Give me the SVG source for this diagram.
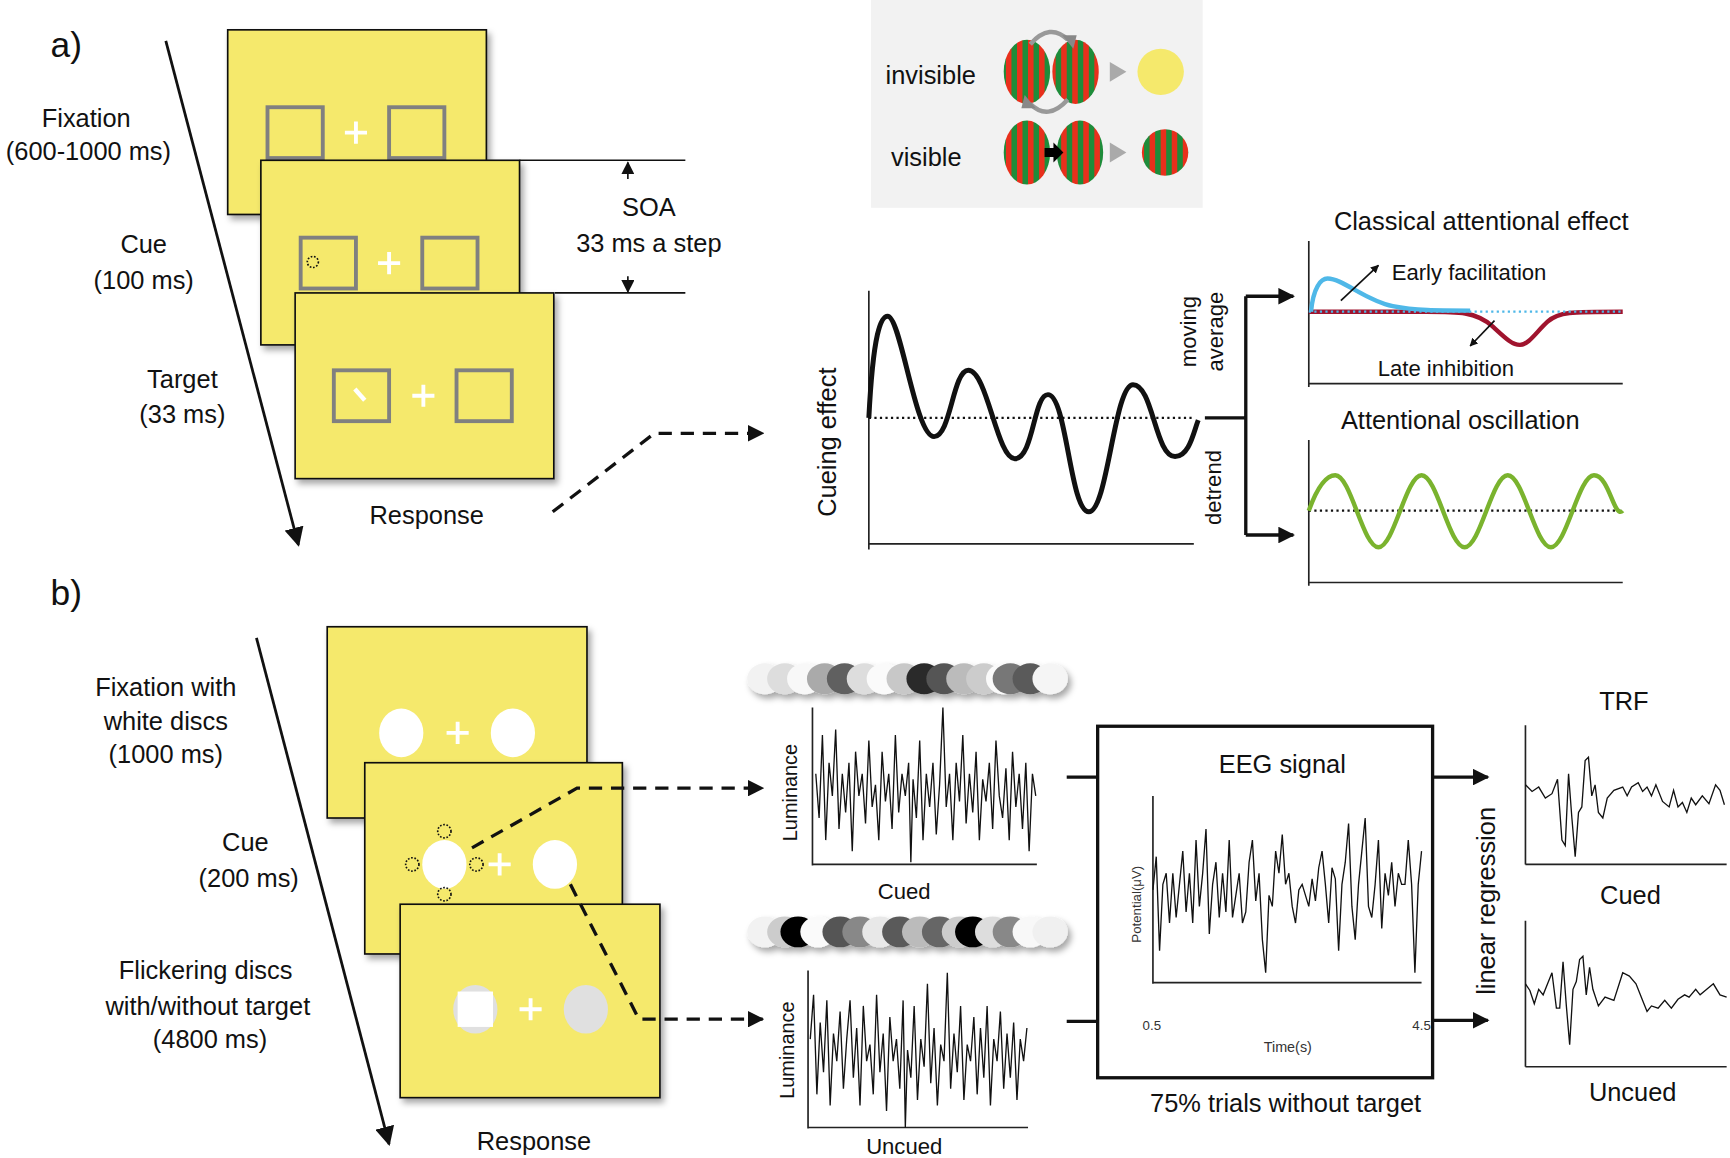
<svg xmlns="http://www.w3.org/2000/svg" width="1730" height="1158" viewBox="0 0 1730 1158">
<style>
text{font-family:"Liberation Sans",Arial,sans-serif;fill:#111}
.lab{font-size:23px;text-anchor:middle}
.scr{fill:#F5E96C;stroke:#111;stroke-width:1.5;filter:url(#sh)}
.gbox{fill:none;stroke:#808080;stroke-width:3.5}
.cross{stroke:#fff;stroke-width:3.5}
.ax{stroke:#222;stroke-width:1.5;fill:none}
.dot{stroke:#111;stroke-width:2;stroke-dasharray:2 3;fill:none}
.dash{stroke:#111;stroke-width:3;stroke-dasharray:12 8;fill:none}
.sig{fill:none;stroke:#111;stroke-width:1.2}
</style>
<defs>
<filter id="sh" x="-10%" y="-10%" width="130%" height="130%"><feDropShadow dx="3" dy="4" stdDeviation="3" flood-opacity="0.35"/></filter>
<marker id="ah" viewBox="0 0 10 10" refX="9" refY="5" markerWidth="5" markerHeight="5" orient="auto"><path d="M0,0L10,5L0,10z" fill="#111"/></marker>
<marker id="ahs" viewBox="0 0 10 10" refX="9" refY="5" markerWidth="7" markerHeight="7" orient="auto"><path d="M0,0L10,5L0,10z" fill="#111"/></marker>
<marker id="ahu" viewBox="0 0 10 10" refX="9" refY="5" markerWidth="12" markerHeight="12" markerUnits="userSpaceOnUse" orient="auto"><path d="M0,0L10,5L0,10z" fill="#111"/></marker>
<pattern id="stripe" width="10" height="10" patternUnits="userSpaceOnUse"><rect width="5" height="10" fill="#E8301C"/><rect x="5" width="5" height="10" fill="#1E8C3A"/></pattern>
</defs>
<g transform="scale(1.1054)">
<g id="panelA-labels">
<text x="60" y="52" style="font-size:32px" text-anchor="middle">a)</text>
<text class="lab" x="78" y="115">Fixation</text>
<text class="lab" x="80" y="145">(600-1000 ms)</text>
<text class="lab" x="130" y="229">Cue</text>
<text class="lab" x="130" y="261">(100 ms)</text>
<text class="lab" x="165" y="351">Target</text>
<text class="lab" x="165" y="383">(33 ms)</text>
<text class="lab" x="386" y="474">Response</text>
<text class="lab" x="587" y="195">SOA</text>
<text class="lab" x="587" y="228">33 ms a step</text>
</g>
<g id="screenA1"><rect class="scr" x="206" y="27" width="234" height="167"/><rect class="gbox" x="242" y="97" width="50" height="46"/><rect class="gbox" x="352" y="97" width="50" height="46"/><path class="cross" d="M312,120h20M322,110v20"/></g>
<g id="screenA2"><rect class="scr" x="236" y="145" width="234" height="167"/><rect class="gbox" x="272" y="215" width="50" height="46"/><rect class="gbox" x="382" y="215" width="50" height="46"/><path class="cross" d="M342,238h20M352,228v20"/><circle cx="283" cy="237" r="5" fill="none" stroke="#111" stroke-width="1.5" stroke-dasharray="1.5 1.5"/></g>
<g id="screenA3"><rect class="scr" x="267" y="265" width="234" height="168"/><rect class="gbox" x="302" y="335" width="50" height="46"/><rect class="gbox" x="413" y="335" width="50" height="46"/><path class="cross" d="M373,358h20M383,348v20"/><path d="M321,352l9,10" stroke="#fff" stroke-width="4"/></g>
<g id="inset">
<rect x="788" y="0" width="300" height="188" fill="#F2F2F2"/>
<text class="lab" x="842" y="76">invisible</text>
<text class="lab" x="838" y="150">visible</text>
<ellipse cx="929" cy="65" rx="21" ry="29" fill="url(#stripe)"/>
<ellipse cx="973" cy="65" rx="21" ry="29" fill="url(#stripe)"/>
<ellipse cx="1050" cy="65" rx="21" ry="21" fill="#F5E96C"/>
<ellipse cx="929" cy="138" rx="21" ry="29" fill="url(#stripe)"/>
<ellipse cx="977" cy="138" rx="21" ry="29" fill="url(#stripe)"/>
<ellipse cx="1054" cy="138" rx="21" ry="21" fill="url(#stripe)"/>
<path d="M1004,56l15,9l-15,9z" fill="#AAA"/><path d="M1004,129l15,9l-15,9z" fill="#AAA"/>
<path d="M945,134h8v-5l9,9l-9,9v-5h-8z" fill="#000"/>
<path d="M932,40q18,-20 34,-4" fill="none" stroke="#999" stroke-width="4"/><path d="M961,32l10,12l3,-12z" fill="#888"/>
<path d="M966,90q-18,20 -34,4" fill="none" stroke="#999" stroke-width="4"/><path d="M937,98l-10,-12l-3,12z" fill="#888"/>
</g>
<g id="cueing">
<path class="ax" d="M786,263V497M786,492H1080"/>
<path class="dot" d="M786,378H1080"/>
<text class="lab" transform="translate(756,400) rotate(-90)">Cueing effect</text>
<path d="M786,378C790,300 797,286 803,286C815,286 828,395 845,395C860,395 862,335 876,335C893,335 902,415 918,415C935,415 935,357 948,357C965,357 968,463 985,463C1002,463 1008,348 1025,348C1043,348 1045,413 1063,413C1076,413 1080,390 1084,380" fill="none" stroke="#111" stroke-width="4.5"/>
<text class="lab" transform="translate(1082,300) rotate(-90)" style="font-size:20px">moving</text>
<text class="lab" transform="translate(1106,300) rotate(-90)" style="font-size:20px">average</text>
<text class="lab" transform="translate(1105,441) rotate(-90)" style="font-size:20px">detrend</text>
</g>
<g id="classical">
<text class="lab" x="1340" y="208">Classical attentional effect</text>
<path class="ax" d="M1184,218V350M1184,347H1468"/>
<path d="M1184,282H1290C1320,282 1335,282 1350,295C1362,306 1368,312 1375,312C1383,312 1390,300 1400,291C1410,282 1420,282 1468,282" fill="none" stroke="#A0142E" stroke-width="4"/>
<path d="M1186,282C1188,260 1195,252 1201,252C1215,252 1235,272 1260,277C1280,281 1300,281 1330,281" fill="none" stroke="#4FB8E8" stroke-width="4"/>
<path d="M1184,282H1468" stroke="#4FB8E8" stroke-width="2" stroke-dasharray="2 3"/>
<path d="M1213,272L1247,240" stroke="#111" stroke-width="1.5" marker-end="url(#ah)"/>
<path d="M1352,290L1330,313" stroke="#111" stroke-width="1.5" marker-end="url(#ah)"/>
<text x="1259" y="253" style="font-size:20px">Early facilitation</text>
<text x="1308" y="340" style="font-size:20px" text-anchor="middle">Late inhibition</text>
</g>
<g id="oscillation">
<text class="lab" x="1321" y="388">Attentional oscillation</text>
<path class="ax" d="M1184,398V530M1184,527H1468"/>
<path class="dot" d="M1184,462H1468"/>
<path d="M1184,462C1192,440 1200,430 1208,430C1222,430 1233,495 1247,495C1261,495 1272,430 1286,430C1300,430 1311,495 1325,495C1339,495 1350,430 1364,430C1378,430 1389,495 1403,495C1417,495 1428,430 1442,430C1456,430 1460,470 1468,462" fill="none" stroke="#7AB32E" stroke-width="4"/>
</g>
<g id="panelB-labels">
<text x="60" y="547" style="font-size:32px" text-anchor="middle">b)</text>
<text class="lab" x="150" y="630">Fixation with</text>
<text class="lab" x="150" y="660">white discs</text>
<text class="lab" x="150" y="690">(1000 ms)</text>
<text class="lab" x="222" y="770">Cue</text>
<text class="lab" x="225" y="802">(200 ms)</text>
<text class="lab" x="186" y="886">Flickering discs</text>
<text class="lab" x="188" y="918">with/without target</text>
<text class="lab" x="190" y="948">(4800 ms)</text>
<text class="lab" x="483" y="1040">Response</text>
</g>
<g id="screenB1"><rect class="scr" x="296" y="567" width="235" height="173"/><ellipse cx="363" cy="663" rx="20" ry="22" fill="#fff"/><ellipse cx="464" cy="663" rx="20" ry="22" fill="#fff"/><path class="cross" d="M404,663h20M414,653v20"/></g>
<g id="screenB2"><rect class="scr" x="330" y="690" width="233" height="173"/><ellipse cx="402" cy="782" rx="20" ry="22" fill="#fff"/><ellipse cx="502" cy="782" rx="20" ry="22" fill="#fff"/><path class="cross" d="M442,782h20M452,772v20"/>
<g fill="none" stroke="#111" stroke-width="1.5" stroke-dasharray="1.5 1.5"><circle cx="402" cy="752" r="6"/><circle cx="373" cy="782" r="6"/><circle cx="431" cy="782" r="6"/><circle cx="402" cy="809" r="6"/></g></g>
<g id="screenB3"><rect class="scr" x="362" y="818" width="235" height="175"/><ellipse cx="430" cy="913" rx="20" ry="22" fill="#E0E0E0"/><rect x="414" y="897" width="32" height="32" fill="#fff"/><ellipse cx="530" cy="913" rx="20" ry="22" fill="#E0E0E0"/><path class="cross" d="M470,913h20M480,903v20"/></g>
<g id="discrows" filter="url(#sh)">
<ellipse cx="692" cy="614" rx="16" ry="14" fill="#F2F2F2"/><ellipse cx="710" cy="614" rx="16" ry="14" fill="#DDD"/><ellipse cx="728" cy="614" rx="16" ry="14" fill="#F8F8F8"/><ellipse cx="746" cy="614" rx="16" ry="14" fill="#AAA"/><ellipse cx="764" cy="614" rx="16" ry="14" fill="#606060"/><ellipse cx="782" cy="614" rx="16" ry="14" fill="#DDD"/><ellipse cx="800" cy="614" rx="16" ry="14" fill="#FAFAFA"/><ellipse cx="818" cy="614" rx="16" ry="14" fill="#C8C8C8"/><ellipse cx="836" cy="614" rx="16" ry="14" fill="#2A2A2A"/><ellipse cx="854" cy="614" rx="16" ry="14" fill="#555"/><ellipse cx="872" cy="614" rx="16" ry="14" fill="#BBB"/><ellipse cx="890" cy="614" rx="16" ry="14" fill="#CCC"/><ellipse cx="908" cy="614" rx="16" ry="14" fill="#FAFAFA"/><ellipse cx="914" cy="614" rx="16" ry="14" fill="#777"/><ellipse cx="932" cy="614" rx="16" ry="14" fill="#5A5A5A"/><ellipse cx="950" cy="614" rx="16" ry="14" fill="#F5F5F5"/>
<ellipse cx="692" cy="843" rx="16" ry="14" fill="#F2F2F2"/><ellipse cx="710" cy="843" rx="16" ry="14" fill="#CCC"/><ellipse cx="722" cy="843" rx="16" ry="14" fill="#000"/><ellipse cx="740" cy="843" rx="16" ry="14" fill="#FAFAFA"/><ellipse cx="760" cy="843" rx="16" ry="14" fill="#555"/><ellipse cx="778" cy="843" rx="16" ry="14" fill="#888"/><ellipse cx="796" cy="843" rx="16" ry="14" fill="#E8E8E8"/><ellipse cx="814" cy="843" rx="16" ry="14" fill="#5A5A5A"/><ellipse cx="832" cy="843" rx="16" ry="14" fill="#BBB"/><ellipse cx="850" cy="843" rx="16" ry="14" fill="#666"/><ellipse cx="868" cy="843" rx="16" ry="14" fill="#CCC"/><ellipse cx="880" cy="843" rx="16" ry="14" fill="#000"/><ellipse cx="898" cy="843" rx="16" ry="14" fill="#DDD"/><ellipse cx="914" cy="843" rx="16" ry="14" fill="#888"/><ellipse cx="932" cy="843" rx="16" ry="14" fill="#F8F8F8"/><ellipse cx="950" cy="843" rx="16" ry="14" fill="#F0F0F0"/>
</g>
<g id="cuedLum">
<path class="ax" d="M735,640V783M735,782H938"/>
<text transform="translate(721,717) rotate(-90)" style="font-size:18px" text-anchor="middle">Luminance</text>
<polyline class="sig" points="738,700 741,740 744,665 747,760 750,690 753,720 756,660 759,750 762,700 765,735 768,690 771,770 774,680 777,720 780,700 783,745 786,670 789,730 792,710 795,760 798,680 801,725 804,700 807,750 810,665 813,735 816,700 819,720 822,690 824,780 826,705 829,740 832,670 835,760 838,700 841,730 844,690 847,755 850,710 853,640 856,730 859,700 862,760 865,690 868,725 871,665 874,745 877,700 880,735 883,680 886,760 889,705 892,725 895,690 898,750 901,670 904,720 907,740 910,695 913,760 916,680 919,730 922,700 925,750 928,690 931,770 934,700 937,720"/>
<text class="lab" x="818" y="813" style="font-size:20px">Cued</text>
</g>
<g id="uncuedLum">
<path class="ax" d="M731,878V1021M731,1020H930"/>
<text transform="translate(718,950) rotate(-90)" style="font-size:18px" text-anchor="middle">Luminance</text>
<polyline class="sig" points="733,940 736,900 739,990 742,925 745,970 748,905 751,1000 754,935 757,960 760,915 763,985 766,940 769,905 772,975 775,930 778,1000 781,910 784,960 787,945 790,990 793,900 796,970 799,935 802,1005 805,920 808,960 811,940 814,985 817,905 819,1020 821,950 824,975 827,910 830,995 833,940 836,965 839,890 842,980 845,930 848,1000 851,945 854,960 857,880 860,985 863,935 866,970 869,910 872,995 875,945 878,960 881,920 884,990 887,930 890,975 893,910 896,1000 899,940 902,960 905,915 908,985 911,935 914,975 917,925 920,995 923,940 926,960 929,930"/>
<text class="lab" x="818" y="1044" style="font-size:20px">Uncued</text>
</g>
<g id="eeg">
<rect x="993" y="657" width="303" height="318" fill="none" stroke="#111" stroke-width="3"/>
<text class="lab" x="1160" y="699">EEG signal</text>
<path class="ax" d="M1043,720V890M1043,889H1286"/>
<text transform="translate(1032,818) rotate(-90)" style="font-size:12px;fill:#333" text-anchor="middle">Potential(μV)</text>
<text x="1042" y="932" style="font-size:12px;fill:#333" text-anchor="middle">0.5</text>
<text x="1286" y="932" style="font-size:12px;fill:#333" text-anchor="middle">4.5</text>
<text x="1165" y="952" style="font-size:13px;fill:#333" text-anchor="middle">Time(s)</text>
<polyline class="sig" points="1043,805 1046,775 1049,860 1052,800 1055,790 1058,835 1061,790 1064,830 1067,800 1070,770 1073,825 1076,790 1079,835 1082,760 1085,820 1088,790 1091,750 1094,845 1097,800 1100,780 1103,830 1106,790 1109,825 1112,760 1115,830 1118,810 1121,790 1124,835 1127,825 1130,780 1133,760 1136,815 1139,790 1142,850 1145,880 1148,810 1151,820 1154,770 1157,790 1160,755 1163,800 1166,790 1169,820 1172,835 1175,805 1178,800 1181,810 1184,820 1187,795 1190,815 1193,785 1196,770 1199,800 1202,835 1205,785 1208,795 1211,860 1214,800 1217,780 1220,745 1223,820 1226,850 1229,800 1232,770 1235,740 1238,820 1241,830 1244,800 1247,760 1250,840 1253,790 1256,810 1259,780 1262,820 1265,790 1268,800 1271,800 1274,760 1277,800 1280,880 1283,800 1286,770"/>
<text class="lab" x="1163" y="1006">75% trials without target</text>
<text class="lab" transform="translate(1352,815) rotate(-90)">linear regression</text>
</g>
<g id="trf">
<text class="lab" x="1469" y="642">TRF</text>
<path class="ax" d="M1380,656V782M1380,782H1562" stroke="#666"/>
<polyline class="sig" points="1380,710 1386,716 1392,712 1398,722 1404,718 1409,705 1413,760 1416,765 1419,700 1422,740 1425,775 1428,735 1431,730 1434,688 1437,685 1440,720 1443,710 1446,735 1450,740 1454,722 1460,715 1468,712 1472,720 1476,712 1482,708 1486,716 1490,712 1494,720 1498,710 1504,725 1510,730 1514,715 1518,730 1522,726 1526,735 1530,722 1534,728 1540,720 1546,727 1552,710 1556,715 1560,728"/>
<text class="lab" x="1475" y="818">Cued</text>
<path class="ax" d="M1380,833V965M1380,965H1562" stroke="#666"/>
<polyline class="sig" points="1380,890 1384,896 1388,908 1392,895 1396,900 1400,890 1404,880 1408,912 1411,912 1414,870 1417,910 1420,945 1423,895 1426,888 1429,868 1432,865 1435,900 1438,875 1441,895 1446,910 1452,902 1460,905 1468,880 1474,883 1480,890 1486,905 1490,915 1494,910 1500,912 1506,905 1512,912 1518,904 1524,900 1528,902 1534,895 1538,900 1544,895 1550,890 1556,900 1562,902"/>
<text class="lab" x="1477" y="996">Uncued</text>
</g>
<g id="connectors">
<path d="M150,37L270,493" stroke="#111" stroke-width="2.5" marker-end="url(#ahs)"/>
<path d="M232,577L352,1035" stroke="#111" stroke-width="2.5" marker-end="url(#ahs)"/>
<path d="M470,145H620M502,265H620" stroke="#111" stroke-width="1.5"/>
<path d="M568,162V147" stroke="#111" stroke-width="1.5" marker-end="url(#ahu)"/>
<path d="M568,250V264" stroke="#111" stroke-width="1.5" marker-end="url(#ahu)"/>
<path class="dash" d="M500,463L592,392H690" marker-end="url(#ah)"/>
<path d="M1090,378H1127M1127,268V484" stroke="#111" stroke-width="3" fill="none"/>
<path d="M1127,268H1170" stroke="#111" stroke-width="3" marker-end="url(#ah)"/>
<path d="M1127,484H1170" stroke="#111" stroke-width="3" marker-end="url(#ah)"/>
<path class="dash" d="M427,767L522,713H690" marker-end="url(#ah)"/>
<path class="dash" d="M516,800L578,922H690" marker-end="url(#ah)"/>
<path d="M965,703H993M965,924H993" stroke="#111" stroke-width="3"/>
<path d="M1296,703H1346" stroke="#111" stroke-width="3" marker-end="url(#ah)"/>
<path d="M1296,923H1346" stroke="#111" stroke-width="3" marker-end="url(#ah)"/>
</g>
</g>
</svg>
